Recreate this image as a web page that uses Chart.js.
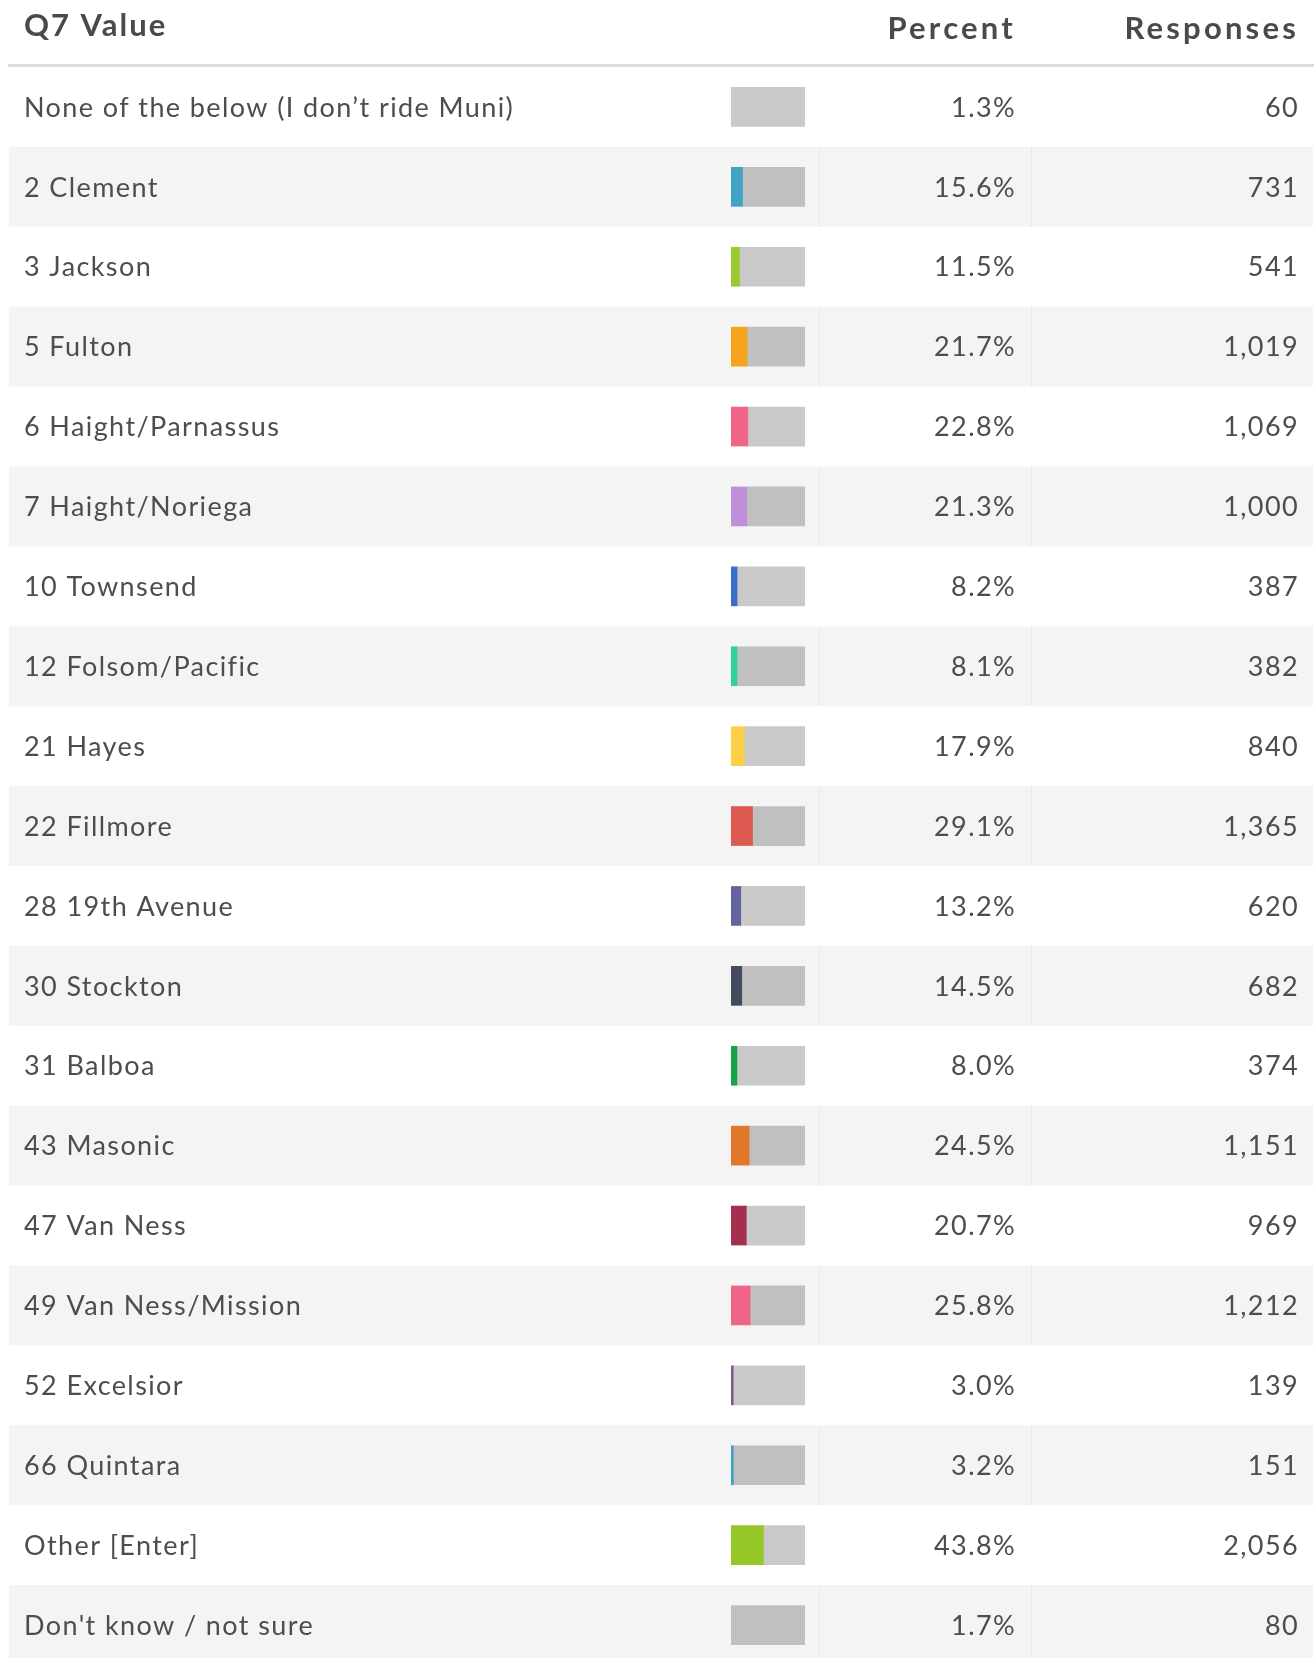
<!DOCTYPE html>
<html lang="en">
<head>
<meta charset="UTF-8">
<title>Q7 Value</title>
<script src="https://cdn.jsdelivr.net/npm/chart.js"></script>
<style>
  html, body { margin: 0; padding: 0; background: #fff; overflow: hidden; }
  #wrap { width: 1314px; height: 1668px; }
  canvas { display: block; }
</style>
</head>
<body>
<div id="wrap"><canvas id="q7" width="1314" height="1668"></canvas></div>
<script>
const categories = [
  'None of the below (I don\u2019t ride Muni)', '2 Clement', '3 Jackson', '5 Fulton',
  '6 Haight/Parnassus', '7 Haight/Noriega', '10 Townsend', '12 Folsom/Pacific',
  '21 Hayes', '22 Fillmore', '28 19th Avenue', '30 Stockton', '31 Balboa',
  '43 Masonic', '47 Van Ness', '49 Van Ness/Mission', '52 Excelsior',
  '66 Quintara', 'Other [Enter]', "Don't know / not sure"
];
const percents = [1.3, 15.6, 11.5, 21.7, 22.8, 21.3, 8.2, 8.1, 17.9, 29.1,
                  13.2, 14.5, 8.0, 24.5, 20.7, 25.8, 3.0, 3.2, 43.8, 1.7];
const responses = [60, 731, 541, 1019, 1069, 1000, 387, 382, 840, 1365,
                   620, 682, 374, 1151, 969, 1212, 139, 151, 2056, 80];
const barColors = [
  '#c9c9c9', '#40a3c4', '#9aca2f', '#f5a31a', '#f06488', '#bf8fd9',
  '#3b6dc8', '#2fcf9f', '#fcd046', '#dd5a50', '#6463a0', '#434a5e', '#17a34a',
  '#e0772b', '#a52f4f', '#f06488', '#7b5b8f', '#40a3c4', '#95c826', '#c1c1c1'
];
const headers = ['Q7 Value', 'Percent', 'Responses'];

const FONT = 'Lato, "Open Sans", sans-serif';
const TEXT = '#4d4d4d';

const tablePlugin = {
  id: 'table',
  beforeDatasetsDraw(chart) {
    const ctx = chart.ctx;
    const y = chart.scales.y;
    const band = y.getPixelForValue(1) - y.getPixelForValue(0);
    ctx.save();
    // row backgrounds
    categories.forEach((c, i) => {
      const top = y.getPixelForValue(i) - band / 2;
      if (i % 2 === 1) {
        ctx.fillStyle = '#f4f4f4';
        ctx.fillRect(9, top, 1304, band);
        ctx.fillStyle = '#e8e8e8';
        ctx.fillRect(819, top, 1, band);
        ctx.fillRect(1031, top, 1, band);
      }
    });
    // header rule
    ctx.fillStyle = '#dddddd';
    ctx.fillRect(8, 64, 1306, 3);
    // header text
    ctx.fillStyle = '#4a4a4a';
    ctx.font = 'bold 31px ' + FONT;
    ctx.letterSpacing = '2px';
    ctx.textBaseline = 'middle';
    ctx.textAlign = 'left';
    ctx.fillText(headers[0], 24, 26);
    ctx.letterSpacing = '3.2px';
    ctx.textAlign = 'right';
    ctx.fillText(headers[1], 1016, 29);
    ctx.fillText(headers[2], 1299, 29);
    ctx.restore();
  },
  afterDraw(chart) {
    const ctx = chart.ctx;
    const y = chart.scales.y;
    ctx.save();
    ctx.fillStyle = TEXT;
    ctx.font = '27px ' + FONT;
    ctx.letterSpacing = '1.4px';
    ctx.textBaseline = 'middle';
    categories.forEach((c, i) => {
      const cy = y.getPixelForValue(i) + 1;
      ctx.textAlign = 'left';
      ctx.fillText(c, 24, cy);
      ctx.textAlign = 'right';
      ctx.fillText(percents[i].toFixed(1) + '%', 1016, cy);
      ctx.fillText(responses[i].toLocaleString('en-US'), 1299, cy);
    });
    ctx.restore();
  }
};

new Chart(document.getElementById('q7'), {
  type: 'bar',
  data: {
    labels: categories,
    datasets: [
      {
        data: percents,
        backgroundColor: barColors,
        barThickness: 39
      },
      {
        data: percents.map(p => 100 - p),
        backgroundColor: 'rgba(0,0,0,0.21)',
        barThickness: 39
      }
    ]
  },
  options: {
    indexAxis: 'y',
    responsive: false,
    animation: false,
    layout: { padding: { left: 731, right: 509, top: 67, bottom: 3 } },
    scales: {
      x: { stacked: true, min: 0, max: 100, display: false },
      y: { stacked: true, display: false }
    },
    plugins: { legend: { display: false }, tooltip: { enabled: false } }
  },
  plugins: [tablePlugin]
});
</script>
</body>
</html>
